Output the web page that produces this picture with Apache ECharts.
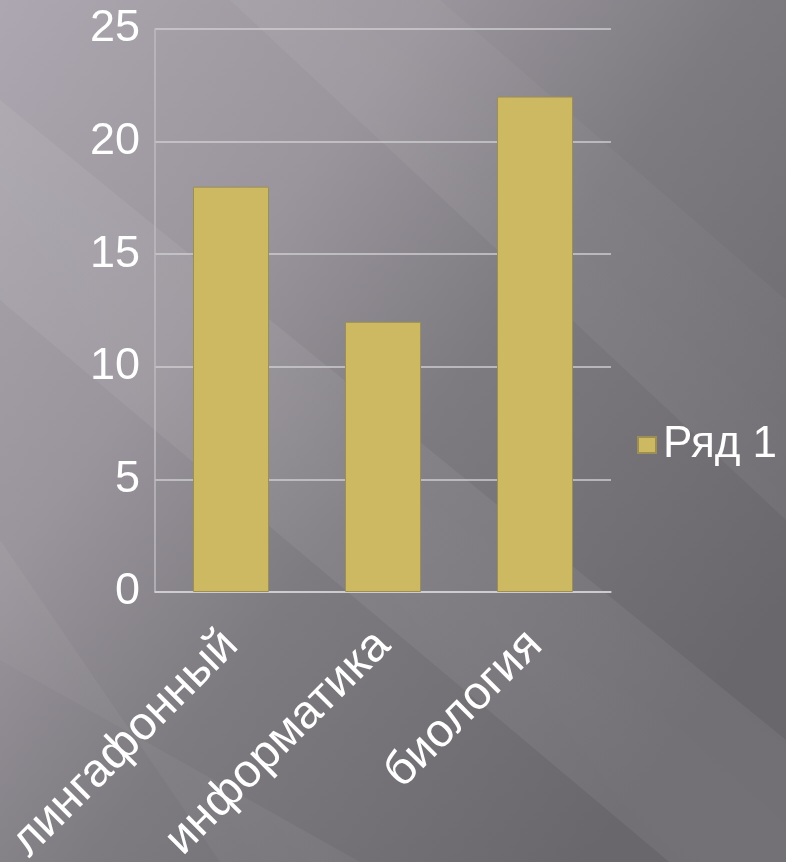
<!DOCTYPE html>
<html>
<head>
<meta charset="utf-8">
<script src="https://cdn.jsdelivr.net/npm/echarts@6/dist/echarts.min.js"></script>
<style>
	html, body { margin: 0; padding: 0; }
	#main { width: 786px; height: 862px; }
</style>
</head>
<body>
<div id="main"></div>
<script>
// данные диаграммы
var categories = ['лингафонный', 'информатика', 'биология'];
var seriesName = 'Ряд 1';
var values = [18, 12, 22];
var yTicks = [0, 5, 10, 15, 20, 25];

var myChart = echarts.init(document.getElementById('main'));

// мягкая полоса блика
function band(points, a) {
	return {
		type: 'polygon', silent: true, z: -1,
		shape: { points: points },
		style: {
			fill: {
				type: 'linear', x: 0, y: 1, x2: 1, y2: 0,
				colorStops: [
					{ offset: 0, color: 'rgba(255,255,255,0)' },
					{ offset: 0.5, color: 'rgba(255,255,255,' + a + ')' },
					{ offset: 1, color: 'rgba(255,255,255,0)' }
				]
			}
		}
	};
}

var option = {
	backgroundColor: {
		type: 'linear', x: 0, y: 0, x2: 1, y2: 0.7,
		colorStops: [
			{ offset: 0, color: '#aca7b0' },
			{ offset: 0.35, color: '#9a959c' },
			{ offset: 0.6, color: '#7d7a80' },
			{ offset: 1, color: '#69666c' }
		]
	},
	textStyle: { fontFamily: 'Liberation Sans, Arial, sans-serif' },
	// диагональные блики фона
	graphic: [
		band([[0, 100], [0, 300], [786, 960], [786, 740]], 0.07),
		band([[230, 0], [440, 0], [786, 300], [786, 520]], 0.05),
		band([[0, 540], [0, 660], [360, 862], [220, 862]], 0.05)
	],
	legend: {
		data: [seriesName],
		left: 632,
		top: 418,
		icon: 'rect',
		itemWidth: 18,
		itemHeight: 16,
		textStyle: { color: '#ffffff', fontSize: 44, padding: [0, 0, 0, 2] }
	},
	grid: {
		left: 155,
		right: 175,
		top: 29,
		bottom: 270,
		containLabel: false,
		outerBoundsMode: 'none'
	},
	xAxis: {
		type: 'category',
		data: categories,
		axisLine: { show: true, lineStyle: { color: '#d4d2d6', width: 1.5 } },
		axisTick: { show: false },
		axisLabel: {
			rotate: 45,
			margin: 46,
			color: '#ffffff',
			fontSize: 47
		}
	},
	yAxis: {
		type: 'value',
		min: yTicks[0],
		max: yTicks[yTicks.length - 1],
		interval: 5,
		axisLine: { show: true, lineStyle: { color: '#bdbabf', width: 1.5 } },
		axisTick: { show: false },
		axisLabel: { color: '#ffffff', fontSize: 45, margin: 15 },
		splitLine: { lineStyle: { color: '#cfcdd1', width: 1.5 } }
	},
	series: [{
		name: seriesName,
		type: 'bar',
		data: values,
		barWidth: 76,
		itemStyle: {
			color: '#cdb962',
			borderColor: '#9c8f55',
			borderWidth: 1
		}
	}]
};
myChart.setOption(option, true);
</script>
</body>
</html>
